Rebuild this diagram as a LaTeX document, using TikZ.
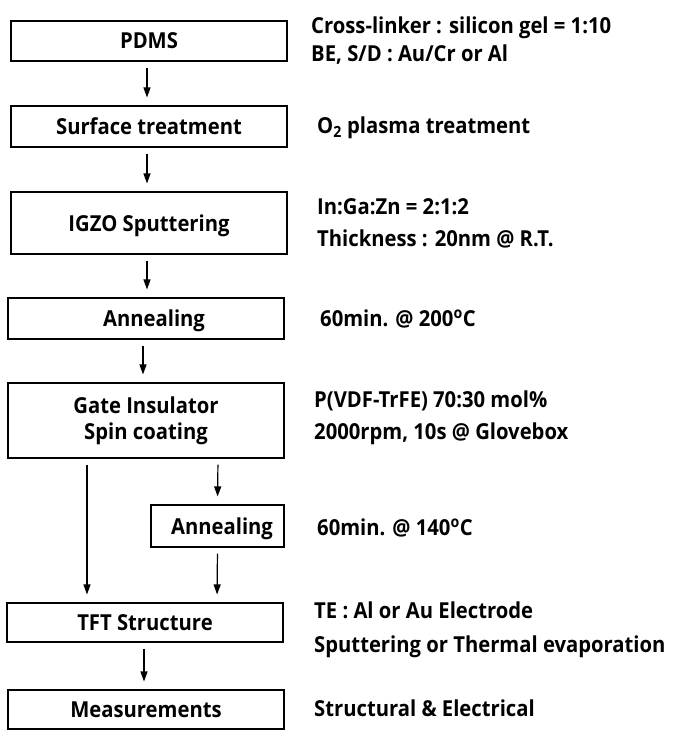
\documentclass[tikz,border=0pt]{standalone}
\usepackage{fontspec}
\setmainfont{Open Sans}[FakeStretch=0.92]
\usepackage{tikz}
\usetikzlibrary{arrows.meta}

\begin{document}
\begin{tikzpicture}[x=1pt,y=-1pt,
  proc/.style={draw,line width=1.1pt,inner sep=0pt,minimum width=276pt,minimum height=40pt,font=\bfseries\fontsize{22}{26}\selectfont},
  one/.style={proc,text height=16pt,text depth=0pt},
  note/.style={anchor=base west,inner sep=0pt,font=\bfseries\fontsize{22}{26}\selectfont},
  flow/.style={line width=1.2pt,-{Triangle[length=10pt,width=7pt]},shorten <=6pt,shorten >=8pt}]
  \useasboundingbox (0,0) rectangle (678,741);
  \node[one] (pdms) at (149,41) {PDMS};
  \node[one,minimum height=41pt] (surf) at (149,126.5) {Surface treatment};
  \node[one,minimum height=62pt] (igzo) at (149,223) {IGZO Sputtering};
  \node[one,minimum height=41pt] (ann) at (146,318.5) {\hspace{16pt}Annealing};
  \node[proc,minimum height=75pt,align=center] (gate) at (146,420.5) {Gate Insulator\\Spin coating};
  \node[one,minimum width=133pt,minimum height=42pt] (ann2) at (217.5,526) {\hspace{9pt}Annealing};
  \node[one,minimum height=39pt] (tft) at (145,622.5) {TFT Structure};
  \node[one,minimum height=39pt] (meas) at (146,709.5) {Measurements};
  \node[note] (n1) at (311,34) {Cross-linker : silicon gel = 1:10};
  \node[note] (n2) at (311,62) {BE, S/D : Au/Cr or Al};
  \node[note] (n3) at (317,133) {O\textsubscript{2} plasma treatment};
  \node[note] (n4) at (317,214) {In:Ga:Zn = 2:1:2};
  \node[note] (n5) at (317,246) {Thickness : 20nm @ R.T.};
  \node[note] (n6) at (320,326) {60min. @ 200\textsuperscript{o}C};
  \node[note] (n7) at (314,407) {P(VDF-TrFE) 70:30 mol\%};
  \node[note] (n8) at (314,439) {2000rpm, 10s @ Glovebox};
  \node[note] (n9) at (317,535) {60min. @ 140\textsuperscript{o}C};
  \node[note] (n10) at (314,618) {TE : Al or Au Electrode};
  \node[note] (n11) at (314,652) {Sputtering or Thermal evaporation};
  \node[note] (n12) at (314,716) {Structural \& Electrical};
  \draw[flow] ([xshift=-2pt]pdms.south)--([xshift=-2pt]surf.north);
  \draw[flow] ([xshift=-2pt]surf.south)--([xshift=-2pt]igzo.north);
  \draw[flow] ([xshift=-2pt]igzo.south)--([xshift=1pt]ann.north);
  \draw[flow] ([xshift=-3pt]ann.south)--([xshift=-3pt]gate.north);
  \draw[flow] ([xshift=-59pt]gate.south)--([xshift=-58pt]tft.north);
  \draw[flow] ([xshift=72pt]gate.south)--(ann2.north);
  \draw[flow] (ann2.south)--([xshift=72pt]tft.north);
  \draw[flow] ([xshift=-1pt]tft.south)--([xshift=-2pt]meas.north);
\end{tikzpicture}
\end{document}
